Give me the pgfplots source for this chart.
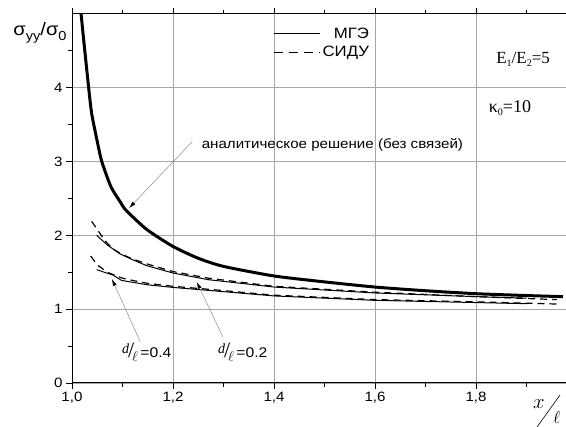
\documentclass[border=0pt]{standalone}
\usepackage{fontspec}
\setmainfont[FakeStretch=1.12]{Liberation Sans}
\newfontfamily\seriffont{Liberation Serif}
\usepackage{pgfplots}
\pgfplotsset{compat=1.18}
\usetikzlibrary{arrows.meta}

\newcommand{\dl}{\raisebox{4pt}{\seriffont\itshape\fontsize{14}{14}\selectfont d}\kern-1pt{\seriffont\fontsize{22}{22}\selectfont /}\kern-2pt\raisebox{-4pt}{\fontsize{15}{15}\selectfont$\ell$}\,}

\begin{document}
\begin{tikzpicture}
\begin{axis}[
 scale only axis, width=494pt, height=369pt,
 xmin=1, xmax=1.978, ymin=0, ymax=5,
 axis x line*=box, axis y line*=left,
 tick align=outside,
 xtick={1.0,1.2,1.4,1.6,1.8}, minor xtick={1.1,1.3,1.5,1.7,1.9},
 ytick={0,1,2,3,4}, minor ytick={0.5,1.5,2.5,3.5,4.5},
 major tick length=6pt, minor tick length=4pt,
 grid=major, major grid style={black!35, line width=0.6pt},
 axis line style={line width=1pt},
 every tick/.style={black, line width=0.8pt},
 /pgf/number format/assume math mode=true,
 xticklabel style={/pgf/number format/.cd, fixed, fixed zerofill, precision=1, use comma},
 tick label style={font=\fontsize{13.5}{13.5}\selectfont},
 clip=false,
 legend style={at={(rel axis cs:0.405,0.972)}, anchor=north west, draw=none, fill=none,
   font=\fontsize{15}{15}\selectfont, row sep=3pt, inner sep=1pt},
 legend cell align=right,
 legend image code/.code={\draw[#1] (0pt,0pt) -- (46pt,0pt);},
]
\addlegendimage{black, line width=1.3pt}
\addlegendentry{МГЭ}
\addlegendimage{black, line width=1.3pt, dash pattern=on 9pt off 6pt}
\addlegendentry{СИДУ}

% analytic solution (no bonds)
\addplot[black, line width=3pt, smooth, tension=0.4, forget plot] coordinates {
 (1.018,5.0) (1.024,4.59) (1.033,4.0) (1.039,3.65) (1.051,3.24) (1.059,3.0)
 (1.077,2.66) (1.095,2.46) (1.107,2.34) (1.148,2.08) (1.2,1.85) (1.25,1.69)
 (1.3,1.58) (1.4,1.45) (1.5,1.37) (1.6,1.30) (1.7,1.25) (1.8,1.21) (1.9,1.185) (1.972,1.17)};

% d/l = 0.2
\addplot[black, line width=1pt, forget plot] coordinates {
 (1.049,2.0) (1.07,1.87) (1.095,1.75) (1.12,1.67) (1.148,1.59) (1.2,1.49)
 (1.27,1.40) (1.4,1.30) (1.6,1.22) (1.8,1.17) (1.9,1.15)};
\addplot[black, line width=1.2pt, dash pattern=on 7pt off 5pt, forget plot] coordinates {
 (1.039,2.19) (1.05,2.08) (1.065,1.93) (1.08,1.82) (1.10,1.74) (1.12,1.68)
 (1.15,1.61) (1.2,1.51) (1.27,1.42) (1.4,1.31) (1.6,1.23) (1.8,1.17) (1.96,1.13)};

% d/l = 0.4
\addplot[black, line width=1pt, forget plot] coordinates {
 (1.049,1.535) (1.082,1.46) (1.098,1.39) (1.15,1.33) (1.2,1.295) (1.27,1.255)
 (1.4,1.18) (1.6,1.12) (1.8,1.09) (1.9,1.075)};
\addplot[black, line width=1.2pt, dash pattern=on 7pt off 5pt, forget plot] coordinates {
 (1.037,1.72) (1.05,1.60) (1.07,1.50) (1.10,1.42) (1.12,1.39) (1.15,1.35)
 (1.2,1.31) (1.27,1.27) (1.4,1.19) (1.6,1.13) (1.8,1.10) (1.96,1.07)};

% annotations
\draw[black!45, line width=0.5pt, -{Latex[black, length=7pt, width=4pt]}]
 (axis cs:1.238,3.27) -- (axis cs:1.113,2.37);
\node[anchor=west, font=\fontsize{13.5}{14}\selectfont] at (axis cs:1.25,3.22)
 {аналитическое решение (без связей)};
\draw[black!45, line width=0.5pt, -{Latex[black, length=7pt, width=4pt]}]
 (axis cs:1.135,0.56) -- (axis cs:1.079,1.41);
\draw[black!45, line width=0.5pt, -{Latex[black, length=7pt, width=4pt]}]
 (axis cs:1.299,0.62) -- (axis cs:1.247,1.37);
\node[font=\fontsize{14}{14}\selectfont] at (axis cs:1.148,0.42) {\dl=0.4};
\node[font=\fontsize{14}{14}\selectfont] at (axis cs:1.338,0.42) {\dl=0.2};
\node[font=\seriffont\fontsize{17}{17}\selectfont] at (axis cs:1.893,4.39)
 {E\raisebox{-3pt}{\fontsize{10}{10}\selectfont 1}/E\raisebox{-3pt}{\fontsize{10}{10}\selectfont 2}=5};
\node[font=\seriffont\fontsize{18}{18}\selectfont] at (axis cs:1.867,3.72)
 {κ\raisebox{-3pt}{\fontsize{10}{10}\selectfont 0}=10};

% axis labels
\node[xshift=-32pt, yshift=-19pt, font=\fontsize{18}{18}\selectfont] at (rel axis cs:0,1)
 {σ\raisebox{-5pt}{\fontsize{13}{13}\selectfont yy}/σ\raisebox{-5pt}{\fontsize{13}{13}\selectfont 0}};
\node[xshift=-27pt, yshift=-21pt, font=\fontsize{21}{21}\selectfont] at (rel axis cs:1,0) {$x$};
\draw[line width=0.6pt] ([xshift=-29pt,yshift=-44pt]rel axis cs:1,0) -- ([xshift=-6pt,yshift=-12pt]rel axis cs:1,0);
\node[xshift=-9pt, yshift=-34pt, font=\fontsize{18}{18}\selectfont] at (rel axis cs:1,0) {$\ell$};
\end{axis}
\pgfresetboundingbox
\path ([xshift=-72pt,yshift=-44pt]current axis.south west) rectangle ([yshift=14pt]current axis.north east);
\end{tikzpicture}
\end{document}
